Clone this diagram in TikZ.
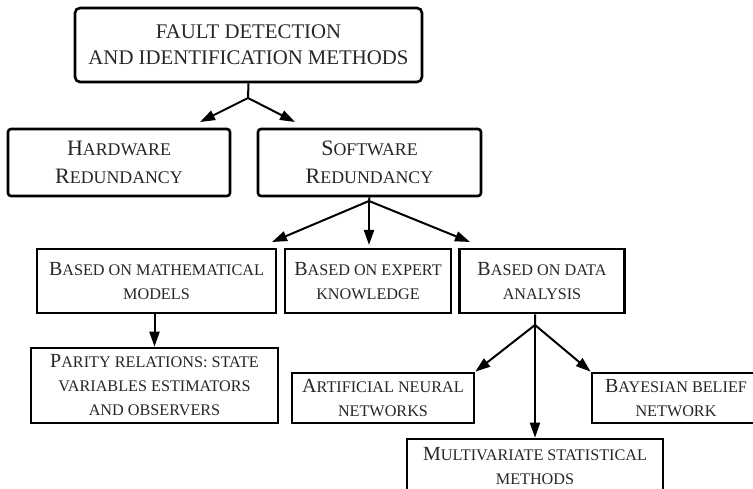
\documentclass[tikz,border=0pt]{standalone}
\usepackage{fontspec}
\setmainfont{Liberation Serif}
\usetikzlibrary{arrows.meta}

% fake small caps: upper case letters at 81% of the current size
\makeatletter
\newcommand\sm[1]{{\fontsize{\fpeval{0.81*\f@size}}{\f@baselineskip}\selectfont #1}}
\makeatother

\tikzset{
  box/.style={draw, line width=2.6pt, text=black!85, align=center, inner sep=0pt},
  topbox/.style={box, rounded corners=5pt, font=\fontsize{20.8}{26}\selectfont},
  midbox/.style={box, rounded corners=3pt, font=\fontsize{22}{28}\selectfont},
  lowbox/.style={box, font=\fontsize{20}{24}\selectfont},
  arr/.style={line width=2pt, -{Triangle[length=15pt,width=10pt]}}
}

\begin{document}
\begin{tikzpicture}[x=1pt,y=1pt]
\useasboundingbox (0,0) rectangle (753,488);
\clip (0,0) rectangle (753,488);

% Root
\node[topbox, minimum width=347pt, minimum height=74pt] (fdi) at (248.5,443)
  {FAULT DETECTION\\AND IDENTIFICATION METHODS};

% Redundancy
\node[midbox, minimum width=222pt, minimum height=67pt] (hw) at (119,325.5)
  {H\sm{ARDWARE}\\R\sm{EDUNDANCY}};
\node[midbox, minimum width=223pt, minimum height=67pt] (sw) at (369.5,325.5)
  {S\sm{OFTWARE}\\R\sm{EDUNDANCY}};

% Software based methods
\node[lowbox, minimum width=239pt, minimum height=64pt] (math) at (156.5,207)
  {B\sm{ASED ON MATHEMATICAL}\\\sm{MODELS}};
\node[lowbox, minimum width=166pt, minimum height=64pt] (expert) at (368,207)
  {B\sm{ASED ON EXPERT}\\\sm{KNOWLEDGE}};
\node[lowbox, minimum width=165pt, minimum height=64pt] (data) at (542,207)
  {B\sm{ASED ON DATA}\\\sm{ANALYSIS}};

% Leaves
\node[lowbox, minimum width=247pt, minimum height=75pt] (parity) at (154.5,102.5)
  {P\sm{ARITY RELATIONS: STATE}\\\sm{VARIABLES ESTIMATORS}\\\sm{AND OBSERVERS}};
\node[lowbox, minimum width=182pt, minimum height=50pt] (ann) at (383,90)
  {A\sm{RTIFICIAL NEURAL}\\\sm{NETWORKS}};
\node[lowbox, minimum width=168pt, minimum height=50pt] (bayes) at (676,90)
  {B\sm{AYESIAN BELIEF}\\\sm{NETWORK}};
\node[lowbox, minimum width=256pt, minimum height=54pt] (multi) at (535,22)
  {M\sm{ULTIVARIATE STATISTICAL}\\\sm{METHODS}};

% Branch points and arrow ends
\coordinate (tj) at (248,390);
\coordinate (hwtip) at (200,366);
\coordinate (swtip) at (295,366);
\coordinate (sj) at (369,287);
\coordinate (mtip) at (272,246);
\coordinate (etip) at (369,243);
\coordinate (dtip) at (470,246);
\coordinate (dj) at (535,163);

% Arrows
\draw[arr] (fdi.south) -- (tj) -- (hwtip);
\draw[arr] (tj) -- (swtip);

\draw[arr] (sw.south) -- (sj) -- (mtip);
\draw[arr] (sj) -- (etip);
\draw[arr] (sj) -- (dtip);

\draw[arr] (math.south -| parity) -- (parity);

\draw[arr] (data.south -| dj) -- (dj) -- (ann.north east);
\draw[arr] (dj) -- (bayes.north west);
\draw[arr] (dj) -- (multi.north);
\end{tikzpicture}
\end{document}
